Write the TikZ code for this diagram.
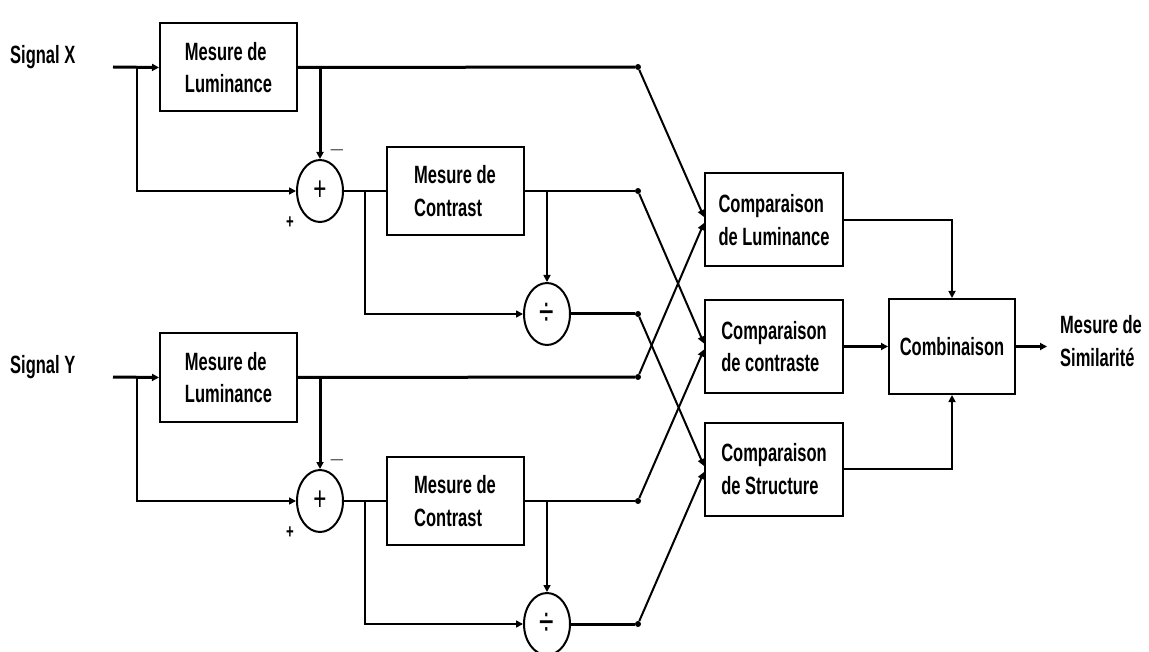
\documentclass[tikz,border=0pt]{standalone}
\usepackage{fontspec}
\setmainfont{Liberation Sans}[FakeStretch=0.66]
\usetikzlibrary{shapes.geometric,arrows.meta,calc}
\tikzset{
  bloc/.style={draw,line width=2pt,minimum width=137pt,minimum height=88pt,
    align=left,font=\fontsize{25}{32.5}\selectfont\bfseries},
  comp/.style={bloc,minimum width=138pt,minimum height=93pt},
  op/.style={draw,ellipse,line width=2pt,inner sep=0pt,minimum width=46pt,
    minimum height=62pt,font=\fontsize{34}{34}\selectfont},
  pt/.style={circle,fill,inner sep=0pt,minimum size=6pt},
  lbl/.style={align=left,inner sep=0pt,font=\fontsize{25}{32.5}\selectfont\bfseries},
  sgn/.style={inner sep=0pt,font=\fontsize{20}{20}\selectfont\bfseries},
  lien/.style={line width=1.6pt},
  fort/.style={line width=3pt},
  diag/.style={line width=2pt},
  fl/.style={-{Triangle[length=7pt,width=7pt]}}
}
\begin{document}
\begin{tikzpicture}
[x=1pt,y=-1pt]
  \useasboundingbox (0,0) rectangle (1149,652);

  \foreach \s/\dy in {X/0,Y/310}
  {
    \node[lbl,anchor=west] (sig\s) at (10,57+\dy) {Signal \s};
    \coordinate (in\s) at (113,67+\dy);
    \coordinate (br\s) at (137,67+\dy);
    \node[bloc] (lum\s) at (228.5,67.5+\dy) {Mesure de\\Luminance};
    \node[op] (sum\s) at (320,191+\dy) {+};
    \node[bloc] (con\s) at (455,191+\dy) {Mesure de\\Contrast};
    \node[op,font=\fontsize{40}{40}\selectfont] (div\s) at (547,314+\dy) {÷};
    \node[sgn] (moins\s) at (337,150+\dy) {$-$};
    \node[sgn] (plus\s) at (290,223+\dy) {+};
    \node[pt] (pl\s) at (638,67+\dy) {};
    \node[pt] (pc\s) at (638,191+\dy) {};
    \node[pt] (pd\s) at (638,314+\dy) {};

    \draw[fort,fl] (in\s) -- (lum\s.west);
    \draw[lien,fl] (br\s) |- (sum\s.west);
    \draw[fort] (lum\s.east) -- (pl\s);
    \draw[fort,fl] (sum\s.north |- lum\s.east) -- (sum\s.north);
    \draw[lien] (sum\s.east) -- (con\s.west);
    \draw[lien,fl] ($(sum\s.east)!0.5!(con\s.west)$) |- (div\s.west);
    \draw[lien] (con\s.east) -- (pc\s);
    \draw[lien,fl] (div\s.north |- con\s.east) -- (div\s.north);
    \draw[fort] (div\s.east) -- (pd\s);
  }

  \node[comp] (compL) at (774,220) {Comparaison\\de Luminance};
  \node[comp] (compC) at (774,346.5) {Comparaison\\de contraste};
  \node[comp] (compS) at (774,469) {Comparaison\\de Structure};
  \node[bloc,minimum width=126pt,minimum height=95pt] (comb) at (952,346.5) {Combinaison};
  \node[lbl,anchor=west] (sim) at (1060,341) {Mesure de\\Similarité};

  \draw[diag,fl] (plX) -- ([yshift=3pt]compL.west);
  \draw[diag,fl] (plY) -- ([yshift=-3pt]compL.west);
  \draw[diag,fl] (pcX) -- ([yshift=3pt]compC.west);
  \draw[diag,fl] (pcY) -- ([yshift=-3pt]compC.west);
  \draw[diag,fl] (pdX) -- ([yshift=3pt]compS.west);
  \draw[diag,fl] (pdY) -- ([yshift=-3pt]compS.west);

  \draw[lien,fl] (compL.east) -| (comb.north);
  \draw[fort,fl] (compC.east) -- (comb.west);
  \draw[lien,fl] (compS.east) -| (comb.south);
  \draw[fort,fl] (comb.east) -- ([xshift=-13pt]sim.west |- comb.east);
\end{tikzpicture}
\end{document}
